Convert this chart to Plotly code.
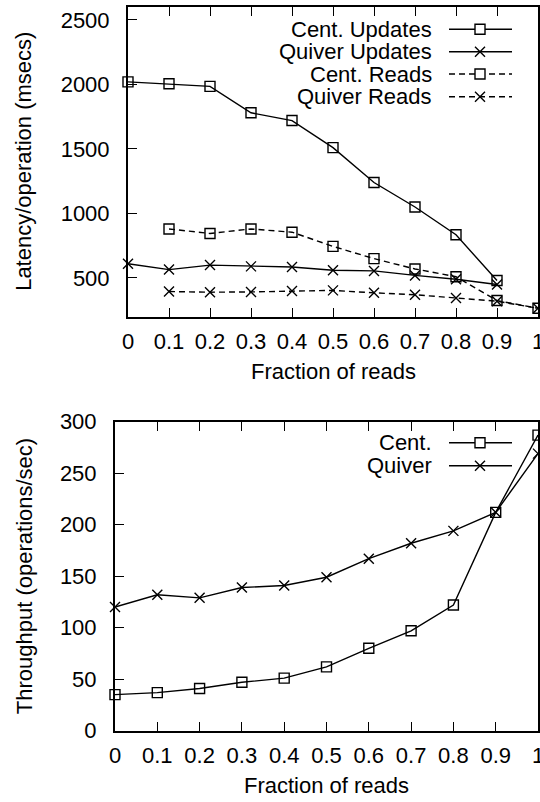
import plotly.graph_objects as go

# ---- data ----
fraction_all = [0, 0.1, 0.2, 0.3, 0.4, 0.5, 0.6, 0.7, 0.8, 0.9, 1.0]
fraction_updates = [0, 0.1, 0.2, 0.3, 0.4, 0.5, 0.6, 0.7, 0.8, 0.9]
fraction_reads = [0.1, 0.2, 0.3, 0.4, 0.5, 0.6, 0.7, 0.8, 0.9, 1.0]

cent_updates = [2020, 2005, 1985, 1780, 1720, 1510, 1240, 1050, 835, 480]
quiver_updates = [610, 565, 600, 590, 585, 560, 555, 520, 490, 450]
cent_reads = [880, 845, 880, 855, 745, 650, 570, 510, 325, 265]
quiver_reads = [395, 390, 392, 400, 404, 385, 370, 345, 320, 265]

cent_throughput = [35, 37, 41, 47, 51, 62, 80, 97, 122, 212, 287]
quiver_throughput = [120, 132, 129, 139, 141, 149, 167, 182, 194, 212, 269]

x_tickvals = [0, 0.1, 0.2, 0.3, 0.4, 0.5, 0.6, 0.7, 0.8, 0.9, 1.0]
x_ticktext = ["0", "0.1", "0.2", "0.3", "0.4", "0.5", "0.6", "0.7", "0.8", "0.9", "1"]
lat_ticks = [500, 1000, 1500, 2000, 2500]
thr_ticks = [0, 50, 100, 150, 200, 250, 300]

# ---- page geometry (pixels) ----
W, H = 540, 802
FONT = "Liberation Sans, Arial, Helvetica, sans-serif"
TOP = dict(x0=128, x1=538, y0=7, y1=316.7)
BOT = dict(x0=115, x1=538, y0=421.7, y1=730.7)


def px(x):
    return x / W


def py(y):
    return 1 - y / H


LINE_W = 1.4
DASH = "6px,4px"
SQ = dict(symbol="square-open", size=10, color="black", line=dict(width=1.4, color="black"))
XM = dict(symbol="x-thin", size=10, color="black", line=dict(width=1.4, color="black"))

fig = go.Figure()


def add_series(x, y, xa, ya, marker, dash, name):
    fig.add_trace(go.Scatter(
        x=x, y=y, xaxis=xa, yaxis=ya, name=name,
        mode="lines+markers",
        line=dict(color="black", width=LINE_W, dash=dash),
        marker=marker, cliponaxis=False, showlegend=False,
    ))


add_series(fraction_updates, cent_updates, "x", "y", SQ, "solid", "Cent. Updates")
add_series(fraction_updates, quiver_updates, "x", "y", XM, "solid", "Quiver Updates")
add_series(fraction_reads, cent_reads, "x", "y", SQ, DASH, "Cent. Reads")
add_series(fraction_reads, quiver_reads, "x", "y", XM, DASH, "Quiver Reads")

add_series(fraction_all, cent_throughput, "x2", "y2", SQ, "solid", "Cent.")
add_series(fraction_all, quiver_throughput, "x2", "y2", XM, "solid", "Quiver")

tickfont = dict(family=FONT, size=22, color="black")
common_x = dict(
    tickmode="array", tickvals=x_tickvals, ticktext=x_ticktext,
    range=[0, 1], showgrid=False, zeroline=False,
    showline=True, linecolor="black", linewidth=2, mirror="ticks",
    ticks="inside", ticklen=9, tickwidth=1.4, tickcolor="black",
    tickfont=tickfont, ticklabelstandoff=4, ticklabeloverflow="allow",
)
common_y = dict(
    tickmode="array", showgrid=False, zeroline=False,
    showline=True, linecolor="black", linewidth=2, mirror=True,
    ticks="inside", ticklen=9, tickwidth=1.4, tickcolor="black",
    tickfont=tickfont, ticklabelstandoff=12, ticklabeloverflow="allow",
)

fig.update_layout(
    width=W, height=H,
    margin=dict(l=0, r=0, t=0, b=0, autoexpand=False),
    paper_bgcolor="white", plot_bgcolor="white",
    showlegend=False,
    xaxis=dict(common_x, domain=[px(TOP["x0"]), px(TOP["x1"])], anchor="y"),
    yaxis=dict(common_y, domain=[py(TOP["y1"]), py(TOP["y0"])], anchor="x",
               range=[200, 2600], tickvals=lat_ticks,
               ticktext=[str(v) for v in lat_ticks]),
    xaxis2=dict(common_x, domain=[px(BOT["x0"]), px(BOT["x1"])], anchor="y2"),
    yaxis2=dict(common_y, domain=[py(BOT["y1"]), py(BOT["y0"])], anchor="x2",
                range=[0, 300], tickvals=thr_ticks,
                ticktext=[str(v) for v in thr_ticks]),
)

# ---- axis titles ----
title_font = dict(family=FONT, size=22, color="black")
annotations = [
    dict(text="Fraction of reads", x=px((TOP["x0"] + TOP["x1"]) / 2), y=py(TOP["y1"] + 55)),
    dict(text="Fraction of reads", x=px((BOT["x0"] + BOT["x1"]) / 2), y=py(BOT["y1"] + 55)),
    dict(text="Latency/operation (msecs)", x=px(24), y=py((TOP["y0"] + TOP["y1"]) / 2), textangle=-90),
    dict(text="Throughput (operations/sec)", x=px(24), y=py((BOT["y0"] + BOT["y1"]) / 2), textangle=-90),
]
for a in annotations:
    fig.add_annotation(xref="paper", yref="paper", showarrow=False,
                       xanchor="center", yanchor="middle", font=title_font, **a)

# ---- key: text on the left, sample line with marker on the right ----
KEY_TEXT_RIGHT = 434
KEY_LINE = (449, 512)
KEY_MARK = 480
top_key = [("Cent. Updates", 29.3, "square", "solid"),
           ("Quiver Updates", 51.7, "x", "solid"),
           ("Cent. Reads", 74.0, "square", "dash"),
           ("Quiver Reads", 96.7, "x", "dash")]
bot_key = [("Cent.", 442.7, "square", "solid"),
           ("Quiver", 465.7, "x", "solid")]

for label, yk, mark, dash in top_key + bot_key:
    fig.add_annotation(xref="paper", yref="paper", showarrow=False,
                       x=px(KEY_TEXT_RIGHT), y=py(yk), xanchor="right", yanchor="middle",
                       text=label, font=title_font)
    fig.add_shape(type="line", xref="paper", yref="paper",
                  x0=px(KEY_LINE[0]), x1=px(KEY_LINE[1]), y0=py(yk), y1=py(yk),
                  line=dict(color="black", width=LINE_W, dash=DASH if dash == "dash" else "solid"))
    h = 5
    if mark == "square":
        fig.add_shape(type="rect", xref="paper", yref="paper",
                      x0=px(KEY_MARK - h), x1=px(KEY_MARK + h), y0=py(yk - h), y1=py(yk + h),
                      fillcolor="white", line=dict(color="black", width=1.4))
    else:
        path = (f"M {px(KEY_MARK - h)},{py(yk - h)} L {px(KEY_MARK + h)},{py(yk + h)} "
                f"M {px(KEY_MARK - h)},{py(yk + h)} L {px(KEY_MARK + h)},{py(yk - h)}")
        fig.add_shape(type="path", xref="paper", yref="paper", path=path,
                      line=dict(color="black", width=1.4))

fig.write_html("out.html")
